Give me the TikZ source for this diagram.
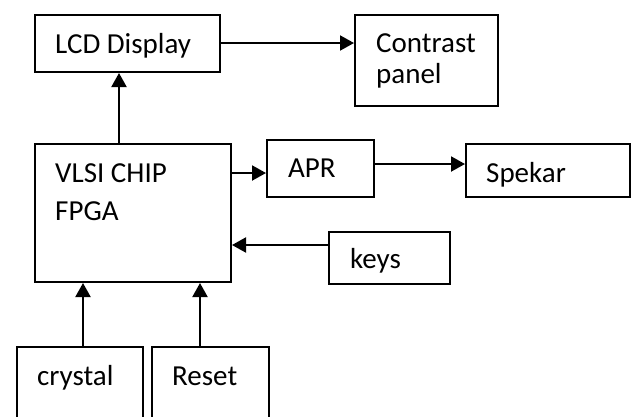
\documentclass[tikz,border=0pt]{standalone}
\usepackage{fontspec}
\setmainfont{Carlito}
\usetikzlibrary{arrows.meta}
\begin{document}
\begin{tikzpicture}[x=1pt,y=-1pt,
  blk/.style={draw=black, line width=2pt, inner sep=0pt, anchor=north west},
  lbl/.style={anchor=base west, inner sep=0pt, font=\fontsize{29}{31}\selectfont},
  link/.style={line width=2pt, -{Triangle[length=14pt,width=15pt]}}]
\useasboundingbox (0,0) rectangle (631,416);
\clip (0,0) rectangle (631,416);
% blocks
\node[blk, minimum width=185pt, minimum height=57pt] (lcd) at (34,14) {};
\node[blk, minimum width=143pt, minimum height=91pt] (con) at (354,14) {};
\node[blk, minimum width=196pt, minimum height=138pt] (chip) at (34,143) {};
\node[blk, minimum width=107pt, minimum height=57pt] (apr) at (266,139) {};
\node[blk, minimum width=164pt, minimum height=53pt] (spk) at (465,143) {};
\node[blk, minimum width=121pt, minimum height=52pt] (keys) at (328,231) {};
\node[blk, minimum width=126pt, minimum height=90pt] (xtal) at (16,346) {};
\node[blk, minimum width=117pt, minimum height=90pt] (rst) at (151,346) {};
% labels
\node[lbl] (tlcd) at (55,53) {LCD Display};
\node[lbl] (tcon1) at (376,52) {Contrast};
\node[lbl] (tcon2) at (376,83) {panel};
\node[lbl] (tchip1) at (55,182) {VLSI CHIP};
\node[lbl] (tchip2) at (55,220) {FPGA};
\node[lbl] (tapr) at (288,177) {APR};
\node[lbl] (tspk) at (486,182) {Spekar};
\node[lbl] (tkeys) at (350,268) {keys};
\node[lbl] (txtal) at (37,385) {crystal};
\node[lbl] (trst) at (172,385) {Reset};
% connections
\draw[link] (lcd.east |- 0,43) -- (con.west |- 0,43);
\draw[link] (chip.north -| 119,0) -- (lcd.south -| 119,0);
\draw[link] (chip.east |- 0,173) -- (apr.west |- 0,173);
\draw[link] (apr.east |- 0,164) -- (spk.west |- 0,164);
\draw[link] (keys.west |- 0,245) -- (chip.east |- 0,245);
\draw[link] (xtal.north -| 83,0) -- (chip.south -| 83,0);
\draw[link] (rst.north -| 200,0) -- (chip.south -| 200,0);
\end{tikzpicture}
\end{document}
